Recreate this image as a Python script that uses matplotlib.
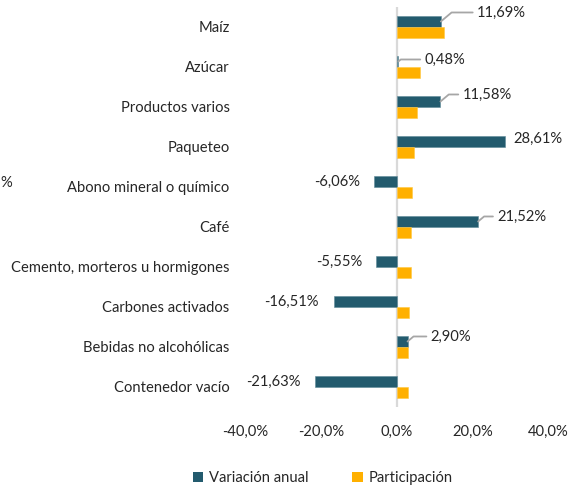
import matplotlib
matplotlib.use("Agg")
import matplotlib.pyplot as plt
import numpy as np
from matplotlib.patches import Patch

# Data
categories = [
    "Maíz", "Azúcar", "Productos varios", "Paqueteo", "Abono mineral o químico",
    "Café", "Cemento, morteros u hormigones", "Carbones activados",
    "Bebidas no alcohólicas", "Contenedor vacío",
]
variacion = [11.69, 0.48, 11.58, 28.61, -6.06, 21.52, -5.55, -16.51, 2.90, -21.63]
participacion = [12.4, 6.3, 5.3, 4.5, 4.2, 3.7, 3.7, 3.2, 2.9, 2.9]
x_ticks = [-40, -20, 0, 20, 40]

# label offsets in pixels (Excel-style placement)
label_offsets = [(36, 9), (26, 2), (22, 7), (8, 3), (-13, 0),
                 (19, 5), (-13, 0), (-15, 0), (23, 5), (-14, 0)]

TEAL = "#235b6e"
GOLD = "#ffb000"
TEXT = "#262626"
FS = 10.6

plt.rcParams["font.family"] = ["Lato", "DejaVu Sans"]

fig = plt.figure(figsize=(5.71, 4.92), dpi=100)
ax = fig.add_axes([0.429, 0.1728, 0.531, 0.813])

y = np.arange(len(categories))
h = 0.275
ax.barh(y - h / 2, variacion, h, color=TEAL, edgecolor="#5f8a99", linewidth=0.4)
ax.barh(y + h / 2, participacion, h, color=GOLD, edgecolor="#ffc740", linewidth=0.4)

ax.set_ylim(len(categories) - 0.5, -0.5)
ax.set_xlim(-40, 40)
ax.axvline(0, color="#d9d9d9", lw=1.6, zorder=0)

for s in ax.spines.values():
    s.set_visible(False)
ax.tick_params(length=0)
ax.set_yticks(y)
ax.set_yticklabels(categories, fontsize=FS, color=TEXT)
ax.tick_params(axis="y", pad=11)
ax.set_xticks(x_ticks)
ax.set_xticklabels([f"{v:.1f}%".replace(".", ",") for v in x_ticks], fontsize=FS, color=TEXT)
ax.tick_params(axis="x", pad=13)

for i, (v, (dx, dy)) in enumerate(zip(variacion, label_offsets)):
    txt = f"{v:.2f}%".replace(".", ",")
    if v < 0:
        ax.annotate(txt, xy=(v, i - h / 2), xytext=(dx, -dy), textcoords="offset pixels",
                    ha="right", va="center", fontsize=FS, color=TEXT)
    elif dx > 12:
        ax.annotate(txt, xy=(v, i - h / 2), xytext=(dx, dy), textcoords="offset pixels",
                    ha="left", va="center", fontsize=FS, color=TEXT,
                    arrowprops=dict(arrowstyle="-", color="#a6a6a6", lw=1.3,
                                    shrinkA=1, shrinkB=0, relpos=(0, 0.5),
                                    connectionstyle="angle,angleA=0,angleB=40,rad=0"))
    else:
        ax.annotate(txt, xy=(v, i - h / 2), xytext=(dx, dy), textcoords="offset pixels",
                    ha="left", va="center", fontsize=FS, color=TEXT)

# fragment of a label at the left edge of the original
fig.text(0.0, 1 - 183 / 492, "%", fontsize=FS, color=TEXT, ha="left", va="center")

handles = [Patch(facecolor=TEAL), Patch(facecolor=GOLD)]
fig.legend(handles, ["Variación anual", "Participación"], loc="center",
           bbox_to_anchor=(0.565, 1 - 478 / 492), ncol=2, frameon=False,
           fontsize=FS, handlelength=0.7, handleheight=0.7, handletextpad=0.4,
           columnspacing=3.0, labelcolor=TEXT)

fig.savefig("out.png", dpi=100)
